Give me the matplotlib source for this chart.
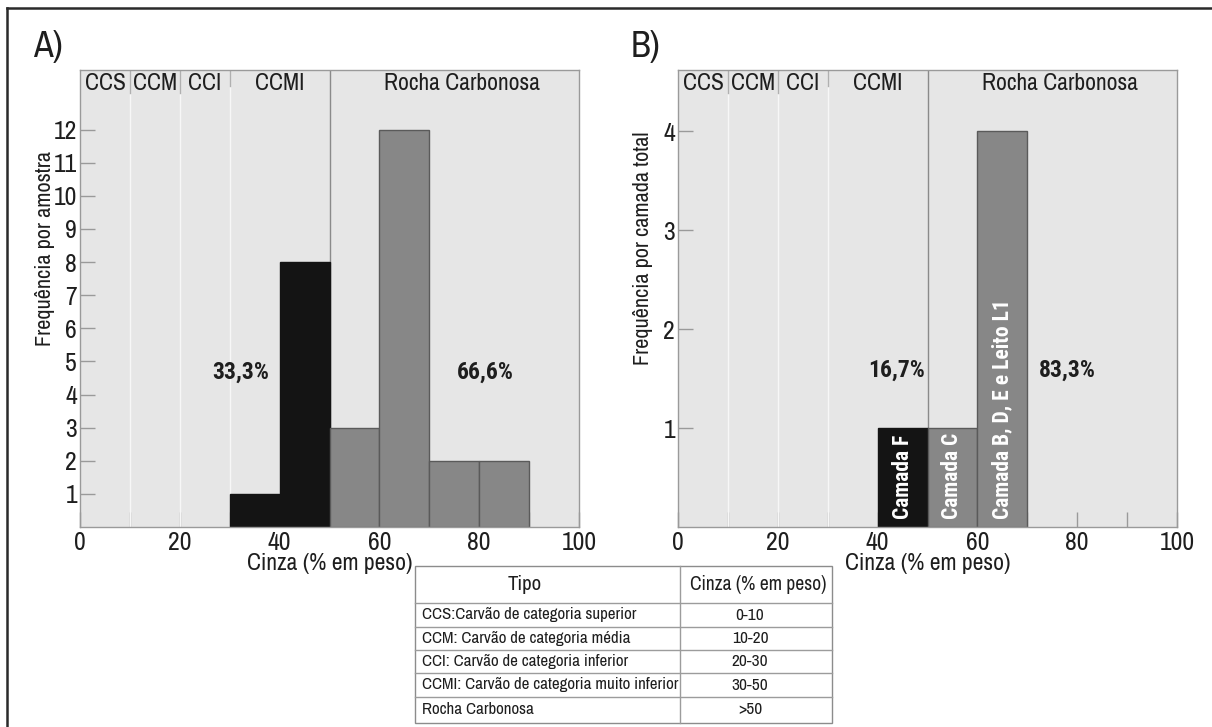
import matplotlib
matplotlib.use("Agg")
import matplotlib.pyplot as plt
from matplotlib import font_manager

# ---------------- data ----------------
bins_a = [30, 40, 50, 60, 70, 80]
freq_a = [1, 8, 3, 12, 2, 2]
colors_a = ["black", "black", "gray", "gray", "gray", "gray"]

bins_b = [40, 50, 60]
freq_b = [1, 1, 4]
colors_b = ["black", "gray", "gray"]
labels_b = ["Camada F", "Camada C", "Camada B, D, E e Leito L1"]

classes = ["CCS", "CCM", "CCI", "CCMI", "Rocha Carbonosa"]
class_centers = [5, 15, 25, 40, 76.5]
class_bounds = [10, 20, 30]

pct_a = ["33,3%", "66,6%"]
pct_a_pos = [(32.3, 4.67), (81.2, 4.67)]
pct_b = ["16,7%", "83,3%"]
pct_b_pos = [(43.9, 1.58), (78.0, 1.58)]

yticks_a = list(range(1, 13))
yticks_b = [1, 2, 3, 4]
xticks = [0, 20, 40, 60, 80, 100]

table_header = ["Tipo", "Cinza (% em peso)"]
table_tipo = ["CCS:Carvão de categoria superior",
              "CCM: Carvão de categoria média",
              "CCI: Carvão de categoria inferior",
              "CCMI: Carvão de categoria muito inferior",
              "Rocha Carbonosa"]
table_cinza = ["0-10", "10-20", "20-30", "30-50", ">50"]

# ---------------- fonts ----------------
fl = font_manager.fontManager.ttflist


def _w(w):
    if isinstance(w, (int, float)):
        return int(w)
    return {"bold": 700, "heavy": 800, "black": 900, "semibold": 600,
            "demibold": 600, "medium": 500}.get(str(w).lower(), 400)


def pick(cands, bold=False):
    for c in cands:
        ents = [f for f in fl if f.name == c and f.style == "normal"]
        if not ents:
            continue
        ws = [_w(f.weight) for f in ents]
        if bold and not any(600 <= w <= 800 for w in ws):
            continue
        if not bold and not any(w <= 500 for w in ws):
            continue
        return c
    return "DejaVu Sans"


NARROW = pick(["Liberation Sans Narrow", "Archivo Narrow", "Roboto Condensed",
               "Asap Condensed", "Barlow Semi Condensed"])
NARROW_B = pick(["Liberation Sans Narrow", "Archivo Narrow", "Roboto Condensed",
                 "Asap Condensed", "Barlow Semi Condensed"], bold=True)
plt.rcParams["font.family"] = [NARROW, "DejaVu Sans"]

W, H = 1212, 727
fig = plt.figure(figsize=(W / 100, H / 100), dpi=100)
fig.patch.set_facecolor("white")

BAR_COL = {"black": "#141414", "gray": "#878787"}
BG = "#e6e6e6"
SPINE = "#9a9a9a"
TXT = "#1e1e1e"


def px_axes(x0, y0, x1, y1):
    return fig.add_axes([x0 / W, 1 - y1 / H, (x1 - x0) / W, (y1 - y0) / H])


def panel(ax, bins, freq, cols, ylim, yticks, ylabel, letter, pcts, pct_pos, header_bottoms):
    ax.set_facecolor(BG)
    ax.set_xlim(0, 100)
    ax.set_ylim(0, ylim)
    ax.set_axisbelow(True)
    for s in ax.spines.values():
        s.set_color(SPINE)
        s.set_linewidth(1.0)
    # class boundary lines
    for b, hb in zip(class_bounds, header_bottoms):
        ax.axvline(b, color="#f7f7f7", lw=1.0, zorder=0.6)
        ax.axvline(b, ymin=hb, ymax=1, color="#b0b0b0", lw=1.0, zorder=0.7)
    ax.axvline(50, color="#8a8a8a", lw=1.0, zorder=0.7)
    # bars
    ax.bar(bins, freq, width=10, align="edge",
           color=[BAR_COL[c] for c in cols],
           edgecolor=["#141414" if c == "black" else "#5a5a5a" for c in cols],
           linewidth=1.0, zorder=2)
    # ticks
    ax.set_xticks(xticks)
    ax.set_xticks([10, 30, 50, 70, 90], minor=True)
    ax.set_yticks(yticks)
    ax.tick_params(axis="both", which="both", direction="in", length=11,
                   color=SPINE, width=1.0, labelsize=18.5, labelcolor=TXT)
    ax.tick_params(axis="y", pad=2)
    ax.tick_params(axis="x", pad=3)
    # header labels
    for name, c in zip(classes, class_centers):
        ax.text(c, 1 - 14 / 457, name, transform=ax.get_xaxis_transform(),
                ha="center", va="center", fontsize=17, color=TXT)
    # axis labels
    ax.text(0.5, -0.079, "Cinza (% em peso)", transform=ax.transAxes,
            ha="center", va="center", fontsize=17, color=TXT)
    ax.text(-0.07, 0.61, ylabel, transform=ax.transAxes, rotation=90,
            ha="center", va="center", fontsize=16, color=TXT)
    ax.text(-0.094, 1 + 13 / 457, letter, transform=ax.transAxes,
            ha="left", va="baseline", fontsize=26, color=TXT)
    for t, (x, y) in zip(pcts, pct_pos):
        ax.text(x, y, t, ha="center", va="center", fontsize=17,
                fontweight="bold", color=TXT, zorder=3,
                family=[NARROW_B, "DejaVu Sans"])


axA = px_axes(80, 70, 579, 527)
panel(axA, bins_a, freq_a, colors_a, 13.8, yticks_a, "Frequência por amostra", "A)",
      pct_a, pct_a_pos, [0.95, 0.95, 0.965])

axB = px_axes(678, 70, 1177, 527)
panel(axB, bins_b, freq_b, colors_b, 4.62, yticks_b, "Frequência por camada total", "B)",
      pct_b, pct_b_pos, [0.95, 0.95, 0.965])

for b, lab in zip(bins_b, labels_b):
    axB.text(b + 5, 0.08, lab, rotation=90, ha="center", va="bottom",
             fontsize=15.5, fontweight="bold", color="white", zorder=4,
             family=[NARROW_B, "DejaVu Sans"])

# ---------------- outer frame ----------------
frame = fig.add_axes([0, 0, 1, 1], zorder=-5)
frame.set_xlim(0, W)
frame.set_ylim(H, 0)
frame.axis("off")
frame.plot([7, 7], [8, H], color="#2a2a2a", lw=1.8)
frame.plot([7, W], [8, 8], color="#2a2a2a", lw=1.8)

# ---------------- table ----------------
tx0, tx1, tcol = 415, 832, 680
row_lines = [566, 603, 627, 650, 673, 697, 723]
tab = fig.add_axes([0, 0, 1, 1], zorder=5)
tab.set_xlim(0, W)
tab.set_ylim(H, 0)
tab.axis("off")
tab.add_patch(plt.Rectangle((tx0, row_lines[0]), tx1 - tx0, row_lines[-1] - row_lines[0],
                            facecolor="white", edgecolor="#8c8c8c", lw=1.0))
for y in row_lines[1:-1]:
    tab.plot([tx0, tx1], [y, y], color="#9c9c9c", lw=1.0)
tab.plot([tcol, tcol], [row_lines[0], row_lines[-1]], color="#9c9c9c", lw=1.0)
hy = (row_lines[0] + row_lines[1]) / 2
tab.text(525, hy, table_header[0], ha="center", va="center", fontsize=15, color=TXT)
tab.text(758, hy, table_header[1], ha="center", va="center", fontsize=14, color=TXT)
for i, (t, c) in enumerate(zip(table_tipo, table_cinza)):
    cy = (row_lines[i + 1] + row_lines[i + 2]) / 2
    tab.text(422, cy, t, ha="left", va="center", fontsize=12.2, color=TXT)
    tab.text(750, cy, c, ha="center", va="center", fontsize=12.5, color=TXT)

fig.savefig("out.png", dpi=100, facecolor="white")
